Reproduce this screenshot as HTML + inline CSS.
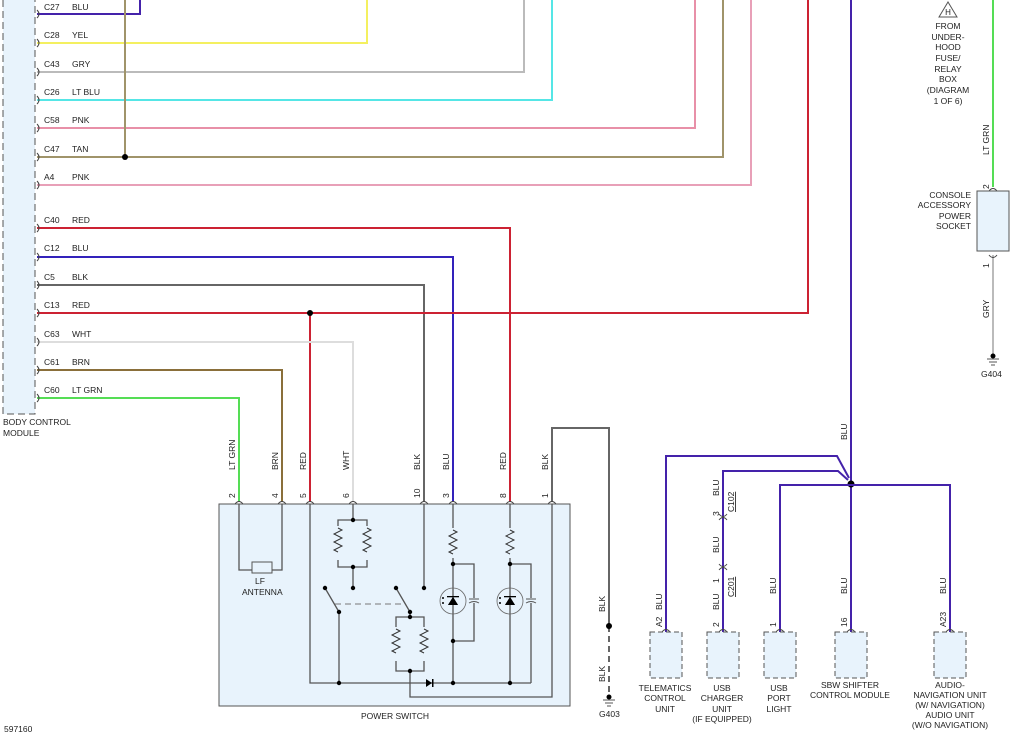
<!DOCTYPE html>
<html><head><meta charset="utf-8"><style>
html,body{margin:0;padding:0;background:#fff;}
svg{display:block;font-family:"Liberation Sans",sans-serif;font-size:8.5px;fill:#222;}
</style></head><body>
<svg width="1024" height="736" viewBox="0 0 1024 736" xmlns="http://www.w3.org/2000/svg">
<defs>
<g id="rz"><path d="M0,0 l4,2 l-8,4 l8,4 l-8,4 l8,4 l-8,4 l4,2" fill="none" stroke="#333" stroke-width="1"/></g>
</defs>
<!-- BCM -->
<rect x="3" y="-2" width="32" height="416" fill="#e8f3fc"/>
<path d="M3,0 V414 H35 V0" fill="none" stroke="#555" stroke-dasharray="7,4" stroke-width="1"/>
<text x="3" y="425">BODY CONTROL</text><text x="3" y="436">MODULE</text>
<g fill="none" stroke-width="2">
<path d="M37,14 H140 V0" stroke="#4422aa"/>
<path d="M37,43 H367 V0" stroke="#f4f060"/>
<path d="M37,72 H524 V0" stroke="#bbbbbb"/>
<path d="M37,100 H552 V0" stroke="#55e6e6"/>
<path d="M37,128 H695 V0" stroke="#e890a8"/>
<path d="M125,0 V157" stroke="#a0946a"/>
<path d="M37,157 H723 V0" stroke="#a0946a"/>
<path d="M37,185 H751 V0" stroke="#e8a0b8"/>
<path d="M37,228 H510 V502" stroke="#cc2233"/>
<path d="M37,257 H453 V502" stroke="#3322bb"/>
<path d="M37,285 H424 V502" stroke="#666"/>
<path d="M37,313 H808 V0" stroke="#cc2233"/>
<path d="M310,313 V502" stroke="#cc2233"/>
<path d="M37,342 H353 V502" stroke="#dddddd"/>
<path d="M37,370 H282 V502" stroke="#8a6f3a"/>
<path d="M37,398 H239 V502" stroke="#55dd55"/>
<path d="M851,0 V678" stroke="#4422aa"/>
<path d="M993,0 V187" stroke="#55dd55"/>
<path d="M993,255 V355" stroke="#bbbbbb"/>
<path d="M552,502 V428 H609 V626" stroke="#666"/>
</g>
<path d="M609,626 V695" stroke="#666" stroke-width="2" stroke-dasharray="6,4" fill="none"/>
<g fill="#000"><circle cx="125" cy="157" r="3"/><circle cx="310" cy="313" r="3"/><circle cx="609" cy="626" r="3"/><circle cx="609" cy="697" r="2.5"/><circle cx="993" cy="356" r="2.5"/><circle cx="851" cy="484" r="3.5"/></g>
<g stroke="#555" fill="none"><path d="M603,700 h12 M605,703 h8 M607,706 h4"/><path d="M987,359 h12 M989,362 h8 M991,365 h4"/></g>
<text x="599" y="717">G403</text><text x="981" y="377">G404</text>
<!-- BCM connector marks and labels -->
<g fill="none" stroke="#444" stroke-width="1">
<path d="M37,10 q4,4 0,8 M37,39 q4,4 0,8 M37,68 q4,4 0,8 M37,96 q4,4 0,8 M37,124 q4,4 0,8 M37,153 q4,4 0,8 M37,181 q4,4 0,8 M37,224 q4,4 0,8 M37,253 q4,4 0,8 M37,281 q4,4 0,8 M37,309 q4,4 0,8 M37,338 q4,4 0,8 M37,366 q4,4 0,8 M37,394 q4,4 0,8"/>
</g>
<g>
<text x="44" y="10">C27</text><text x="72" y="10">BLU</text>
<text x="44" y="38">C28</text><text x="72" y="38">YEL</text>
<text x="44" y="67">C43</text><text x="72" y="67">GRY</text>
<text x="44" y="95">C26</text><text x="72" y="95">LT BLU</text>
<text x="44" y="123">C58</text><text x="72" y="123">PNK</text>
<text x="44" y="152">C47</text><text x="72" y="152">TAN</text>
<text x="44" y="180">A4</text><text x="72" y="180">PNK</text>
<text x="44" y="223">C40</text><text x="72" y="223">RED</text>
<text x="44" y="251">C12</text><text x="72" y="251">BLU</text>
<text x="44" y="280">C5</text><text x="72" y="280">BLK</text>
<text x="44" y="308">C13</text><text x="72" y="308">RED</text>
<text x="44" y="337">C63</text><text x="72" y="337">WHT</text>
<text x="44" y="365">C61</text><text x="72" y="365">BRN</text>
<text x="44" y="393">C60</text><text x="72" y="393">LT GRN</text>
</g>
<!-- Power switch -->
<rect x="219" y="504" width="351" height="202" fill="#e8f3fc" stroke="#555"/>
<text x="361" y="719">POWER SWITCH</text>
<g font-size="8.5">
<text transform="translate(235,470) rotate(-90)">LT GRN</text>
<text transform="translate(278,470) rotate(-90)">BRN</text>
<text transform="translate(306,470) rotate(-90)">RED</text>
<text transform="translate(349,470) rotate(-90)">WHT</text>
<text transform="translate(420,470) rotate(-90)">BLK</text>
<text transform="translate(449,470) rotate(-90)">BLU</text>
<text transform="translate(506,470) rotate(-90)">RED</text>
<text transform="translate(548,470) rotate(-90)">BLK</text>
<text transform="translate(605,612) rotate(-90)">BLK</text>
<text transform="translate(605,682) rotate(-90)">BLK</text>
<text transform="translate(235,498) rotate(-90)">2</text>
<text transform="translate(278,498) rotate(-90)">4</text>
<text transform="translate(306,498) rotate(-90)">5</text>
<text transform="translate(349,498) rotate(-90)">6</text>
<text transform="translate(420,498) rotate(-90)">10</text>
<text transform="translate(449,498) rotate(-90)">3</text>
<text transform="translate(506,498) rotate(-90)">8</text>
<text transform="translate(548,498) rotate(-90)">1</text>
</g>
<g fill="none" stroke="#444" stroke-width="1">
<path d="M235,504 q4,-5 8,0 M278,504 q4,-5 8,0 M306,504 q4,-5 8,0 M349,504 q4,-5 8,0 M420,504 q4,-5 8,0 M449,504 q4,-5 8,0 M506,504 q4,-5 8,0 M548,504 q4,-5 8,0"/>
</g>
<g fill="none" stroke="#555" stroke-width="1.3">
<path d="M239,504 V570 H252 M272,570 H282 V504"/>
<path d="M353,504 V520 M338,520 H367 V567 H338 Z M353,567 V588"/>
<path d="M424,504 V588"/>
<path d="M339,612 V683"/>
<path d="M325,588 L339,612 M396,588 L410,612"/>
<path d="M410,612 V617 M396,617 H424 V671 H396 Z M410,671 V697 H552 V504"/>
<path d="M310,504 V683 H531"/>
<path d="M453,504 V683 M453,564 H474 V641 H453"/>
<path d="M510,504 V683 M510,564 H531 V683"/>
</g>
<path d="M335,604 H405" stroke="#777" stroke-dasharray="6,4" fill="none"/>
<rect x="252" y="562" width="20" height="11" fill="#e8f3fc" stroke="#555"/>
<text x="255" y="584">LF</text><text x="242" y="595">ANTENNA</text>
<g fill="#e8f3fc"><rect x="336" y="526" width="5" height="34"/><rect x="364" y="526" width="5" height="34"/><rect x="393" y="627" width="5" height="34"/><rect x="421" y="627" width="5" height="34"/><rect x="450" y="528" width="6" height="30"/><rect x="507" y="528" width="6" height="30"/></g>
<use href="#rz" x="338" y="528"/><use href="#rz" x="367" y="528"/><use href="#rz" x="396" y="629"/><use href="#rz" x="424" y="629"/><use href="#rz" x="453" y="530"/><use href="#rz" x="510" y="530"/>
<g fill="#000">
<circle cx="353" cy="520" r="2.2"/><circle cx="353" cy="567" r="2.2"/><circle cx="353" cy="588" r="2.2"/><circle cx="424" cy="588" r="2.2"/>
<circle cx="325" cy="588" r="2.2"/><circle cx="339" cy="612" r="2.2"/><circle cx="396" cy="588" r="2.2"/><circle cx="410" cy="612" r="2.2"/>
<circle cx="410" cy="617" r="2.2"/><circle cx="410" cy="671" r="2.2"/>
<circle cx="339" cy="683" r="2.2"/><circle cx="453" cy="683" r="2.2"/><circle cx="510" cy="683" r="2.2"/>
<circle cx="453" cy="564" r="2.2"/><circle cx="453" cy="641" r="2.2"/><circle cx="510" cy="564" r="2.2"/>
<path d="M426,679 L432,683 L426,687 Z"/><rect x="432" y="679" width="1.5" height="8"/>
<path d="M448,605 L458,605 L453,597 Z"/><path d="M505,605 L515,605 L510,597 Z"/>
</g>
<g fill="#e8f3fc" stroke="#666" stroke-width="0.8"><circle cx="453" cy="601" r="13" fill="none"/><circle cx="510" cy="601" r="13" fill="none"/></g>
<g fill="#000"><path d="M448,605 L458,605 L453,597 Z"/><path d="M505,605 L515,605 L510,597 Z"/><rect x="447" y="596" width="12" height="1.3"/><rect x="504" y="596" width="12" height="1.3"/>
<circle cx="443" cy="598" r="1"/><circle cx="443" cy="603" r="1"/><circle cx="500" cy="598" r="1"/><circle cx="500" cy="603" r="1"/></g>
<g fill="#e8f3fc"><rect x="470" y="598" width="8" height="5"/><rect x="527" y="598" width="8" height="5"/></g>
<g stroke="#555" fill="none"><path d="M469,599 H479 M469,603 q5,-3 10,0 M526,599 H536 M526,603 q5,-3 10,0"/></g>
<!-- Blue network -->
<g fill="none" stroke="#4422aa" stroke-width="2">
<path d="M666,632 V456 H837 L849,478"/>
<path d="M723,632 V471 H838 L848,480"/>
<path d="M780,632 V485 H851"/>
<path d="M851,485 H950 V632"/>
</g>
<g fill="none" stroke="#444"><path d="M719,520 q4,-5 8,0 M719,514 q4,5 8,0 M719,570 q4,-5 8,0 M719,564 q4,5 8,0"/>
<path d="M662,632 q4,-5 8,0 M719,632 q4,-5 8,0 M776,632 q4,-5 8,0 M847,632 q4,-5 8,0 M946,632 q4,-5 8,0"/></g>
<g fill="#e8f3fc" stroke="#555" stroke-dasharray="5,3">
<rect x="650" y="632" width="32" height="46"/><rect x="707" y="632" width="32" height="46"/><rect x="764" y="632" width="32" height="46"/><rect x="835" y="632" width="32" height="46"/><rect x="934" y="632" width="32" height="46"/>
</g>
<g>
<text transform="translate(847,440) rotate(-90)">BLU</text>
<text transform="translate(662,610) rotate(-90)">BLU</text>
<text transform="translate(662,627) rotate(-90)">A2</text>
<text transform="translate(719,496) rotate(-90)">BLU</text>
<text transform="translate(719,516) rotate(-90)">3</text>
<text transform="translate(734,512) rotate(-90)" text-decoration="underline">C102</text>
<text transform="translate(719,553) rotate(-90)">BLU</text>
<text transform="translate(719,583) rotate(-90)">1</text>
<text transform="translate(734,597) rotate(-90)" text-decoration="underline">C201</text>
<text transform="translate(719,610) rotate(-90)">BLU</text>
<text transform="translate(719,627) rotate(-90)">2</text>
<text transform="translate(776,594) rotate(-90)">BLU</text>
<text transform="translate(776,627) rotate(-90)">1</text>
<text transform="translate(847,594) rotate(-90)">BLU</text>
<text transform="translate(847,627) rotate(-90)">16</text>
<text transform="translate(946,594) rotate(-90)">BLU</text>
<text transform="translate(946,627) rotate(-90)">A23</text>
<text transform="translate(989,155) rotate(-90)">LT GRN</text>
<text transform="translate(989,189) rotate(-90)">2</text>
<text transform="translate(989,268) rotate(-90)">1</text>
<text transform="translate(989,318) rotate(-90)">GRY</text>
</g>
<g text-anchor="middle">
<text x="665" y="691">TELEMATICS</text><text x="665" y="701">CONTROL</text><text x="665" y="712">UNIT</text>
<text x="722" y="691">USB</text><text x="722" y="701">CHARGER</text><text x="722" y="712">UNIT</text><text x="722" y="722">(IF EQUIPPED)</text>
<text x="779" y="691">USB</text><text x="779" y="701">PORT</text><text x="779" y="712">LIGHT</text>
<text x="850" y="688">SBW SHIFTER</text><text x="850" y="698">CONTROL MODULE</text>
<text x="950" y="688">AUDIO-</text><text x="950" y="698">NAVIGATION UNIT</text><text x="950" y="708">(W/ NAVIGATION)</text><text x="950" y="718">AUDIO UNIT</text><text x="950" y="728">(W/O NAVIGATION)</text>
<text x="948" y="29">FROM</text><text x="948" y="40">UNDER-</text><text x="948" y="50">HOOD</text><text x="948" y="61">FUSE/</text><text x="948" y="72">RELAY</text><text x="948" y="82">BOX</text><text x="948" y="93">(DIAGRAM</text><text x="948" y="104">1 OF 6)</text>
</g>
<path d="M939,17 L948,2 L957,17 Z" fill="#fff" stroke="#555"/>
<text x="948" y="15" text-anchor="middle" font-size="8">H</text>
<path d="M989,191 q4,-5 8,0 M989,255 q4,5 8,0" fill="none" stroke="#444"/>
<rect x="977" y="191" width="32" height="60" fill="#e8f3fc" stroke="#555"/>
<g text-anchor="end"><text x="971" y="198">CONSOLE</text><text x="971" y="208">ACCESSORY</text><text x="971" y="219">POWER</text><text x="971" y="229">SOCKET</text></g>
<text x="4" y="732">597160</text>
</svg>
</body></html>
